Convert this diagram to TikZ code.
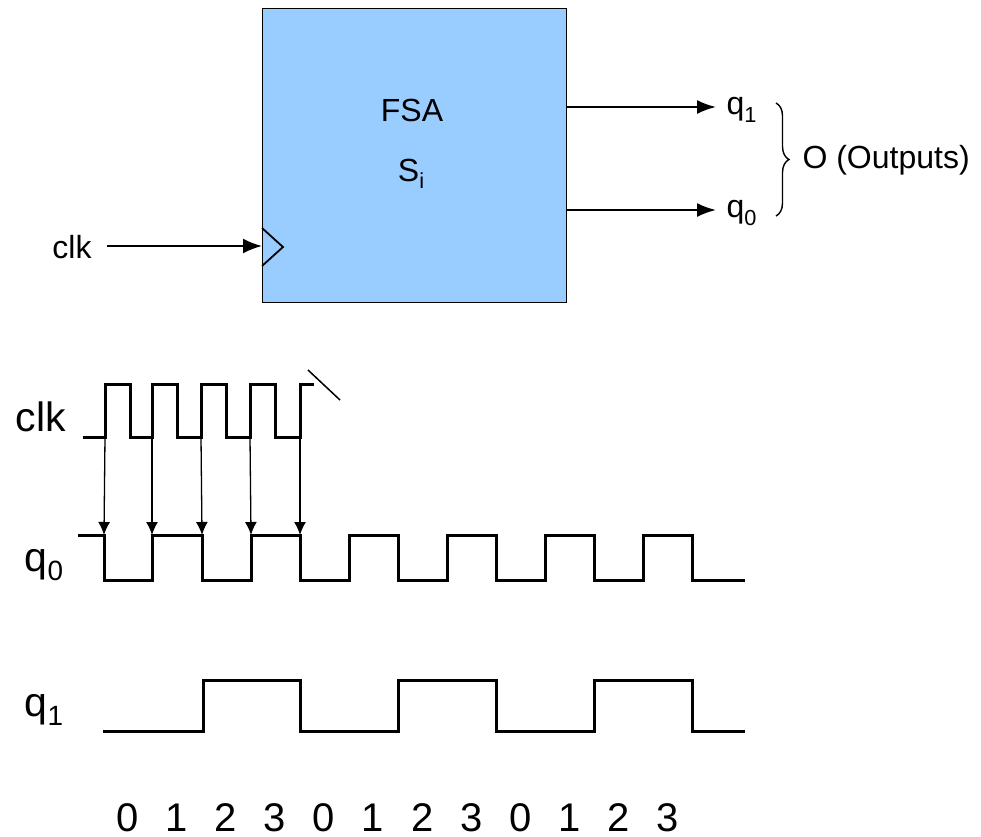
\documentclass[tikz,border=0pt]{standalone}
\usepackage{fontspec}
\setmainfont{Liberation Sans}
\usetikzlibrary{arrows.meta,decorations.pathreplacing}
\definecolor{fsablue}{HTML}{99CCFF}
\newcommand{\lowsub}[1]{\raisebox{-0.45ex}{\scalebox{0.68}{#1}}}
\tikzset{
  txt/.style={font=\fontsize{32}{38}\selectfont},
  bigtxt/.style={font=\fontsize{41}{48}\selectfont},
  tick/.style={font=\fontsize{40}{46}\selectfont},
  wave/.style={line width=3pt},
  edgearrow/.style={line width=1.3pt,-{Latex[length=13pt,width=12pt]}},
  outarrow/.style={line width=2pt,-{Latex[length=19pt,width=14pt]}}
}

\begin{document}
\begin{tikzpicture}[x=1pt,y=-1pt]
  \useasboundingbox (0,0) rectangle (981,836);
  % the automaton block
  \node[draw,line width=1.2pt,fill=fsablue,minimum width=304pt,minimum height=294pt,inner sep=0pt,anchor=north west] (fsa) at (262,8) {};
  \node[txt] (fsaname) at (412,110) {FSA};
  \node[txt] (state) at (411,174) {S\lowsub{i}};
  % clock input
  \node[txt] (clkin) at (72,247) {clk};
  \coordinate (clkstart) at (107,246);
  \coordinate (clkpin) at (262,246);
  \draw[line width=2pt,-{Latex[length=19pt,width=15pt]}] (clkstart) -- (clkpin);
  \draw[line width=1.8pt] (262,228) -- (283,247) -- (262,266);
  % outputs
  \coordinate (q1out) at (566,107);
  \coordinate (q0out) at (566,210);
  \coordinate (q1tip) at (716,107);
  \coordinate (q0tip) at (716,210);
  \draw[outarrow] (q1out) -- (q1tip);
  \draw[outarrow] (q0out) -- (q0tip);
  \node[txt,anchor=west] (q1) at (723,110) {q\lowsub{1}};
  \node[txt,anchor=west] (q0) at (723,213) {q\lowsub{0}};
  \draw[line width=1.4pt,decorate,decoration={brace,amplitude=13pt}] (776,103) -- (776,216);
  \node[txt,anchor=west] (outs) at (799,160) {O (Outputs)};
  % timing diagram
  \node[bigtxt] (clklbl) at (41,417) {clk};
  \node[bigtxt] (q0lbl) at (44,565) {q\lowsub{0}};
  \node[bigtxt] (q1lbl) at (44,710) {q\lowsub{1}};
  \draw[wave] (83,437) -- (105,437) coordinate (k1) -- (105,384) -- (130,384) -- (130,437) -- (152,437) coordinate (k2) -- (152,384) -- (177,384) -- (177,437) -- (201,437) coordinate (k3) -- (201,384) -- (226,384) -- (226,437) -- (250,437) coordinate (k4) -- (250,384) -- (275,384) -- (275,437) -- (300,437) coordinate (k5) -- (300,384) -- (314,384);
  \draw[line width=1.5pt] (308,370) -- (340,400);
  \draw[wave] (78,535) -- (104,535) coordinate (e1) -- (104,580) -- (152,580) -- (152,535) coordinate (e2) -- (202,535) coordinate (e3) -- (202,580) -- (251,580) -- (251,535) coordinate (e4) -- (300,535) coordinate (e5) -- (300,580) -- (349,580) -- (349,535) -- (398,535) -- (398,580) -- (447,580) -- (447,535) -- (496,535) -- (496,580) -- (545,580) -- (545,535) -- (594,535) -- (594,580) -- (643,580) -- (643,535) -- (692,535) -- (692,580) -- (745,580);
  \draw[wave] (103,731) -- (203,731) -- (203,680) -- (300,680) -- (300,731) -- (398,731) -- (398,680) -- (496,680) -- (496,731) -- (594,731) -- (594,680) -- (692,680) -- (692,731) -- (745,731);
  \draw[edgearrow] (k1) -- (e1);
  \draw[edgearrow] (k2) -- (e2);
  \draw[edgearrow] (k3) -- (e3);
  \draw[edgearrow] (k4) -- (e4);
  \draw[edgearrow] (k5) -- (e5);
  % counter values
  \node[tick] (t0) at (128,818) {0};
  \node[tick] (t1) at (177,818) {1};
  \node[tick] (t2) at (226,818) {2};
  \node[tick] (t3) at (275,818) {3};
  \node[tick] (t4) at (324,818) {0};
  \node[tick] (t5) at (373,818) {1};
  \node[tick] (t6) at (423,818) {2};
  \node[tick] (t7) at (472,818) {3};
  \node[tick] (t8) at (521,818) {0};
  \node[tick] (t9) at (570,818) {1};
  \node[tick] (t10) at (619,818) {2};
  \node[tick] (t11) at (668,818) {3};
\end{tikzpicture}
\end{document}
